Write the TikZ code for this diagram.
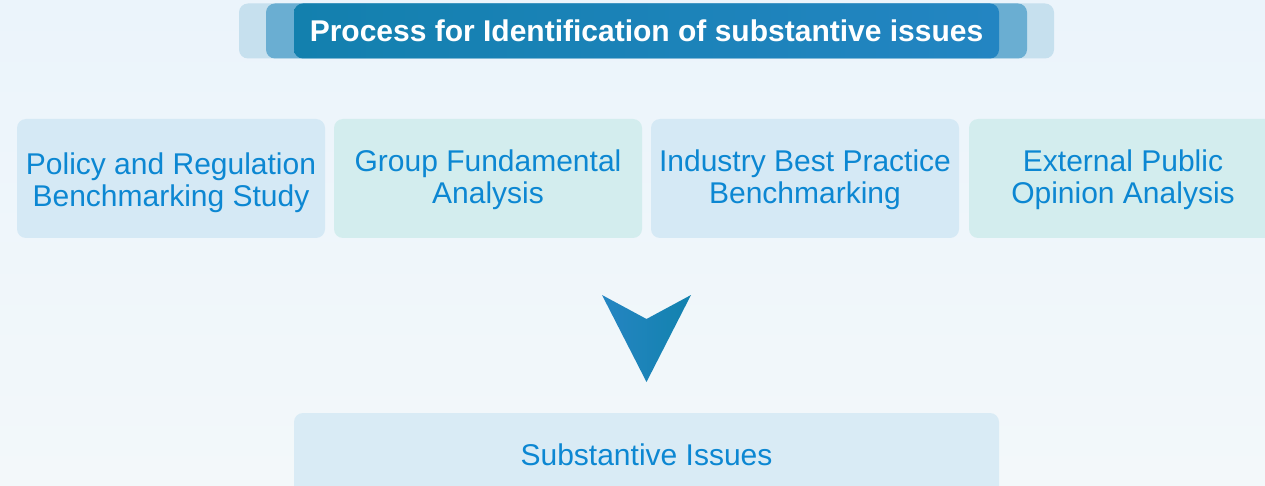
\documentclass[tikz,border=0pt]{standalone}
\usepackage{fontspec}
\setmainfont{Liberation Sans}
\definecolor{bgtop}{HTML}{EBF4FB}
\definecolor{bgbot}{HTML}{F3F8FA}
\definecolor{tOuter}{HTML}{C6E0EE}
\definecolor{tMid}{HTML}{6AAED2}
\definecolor{tInL}{HTML}{1380AE}
\definecolor{tInR}{HTML}{2385C2}
\definecolor{boxBlue}{HTML}{D5E9F5}
\definecolor{boxTeal}{HTML}{D3EDEE}
\definecolor{boxBot}{HTML}{D9EBF5}
\definecolor{txtBlue}{HTML}{0C87D2}
\definecolor{arL}{HTML}{2585C2}
\definecolor{arR}{HTML}{1282AE}
\tikzset{
  srcbox/.style={rectangle, rounded corners=9pt, minimum width=308pt, minimum height=119pt,
    text width=306pt, align=center, text=txtBlue, font=\fontsize{30}{32}\selectfont, inner sep=0pt},
  bluebox/.style={srcbox, fill=boxBlue},
  tealbox/.style={srcbox, fill=boxTeal},
  titlebar/.style={rectangle, rounded corners=9pt, minimum height=55pt, inner sep=0pt},
}
\begin{document}
\begin{tikzpicture}[x=1pt,y=-1pt]
\useasboundingbox (0,0) rectangle (1265,486);
\clip (0,0) rectangle (1265,486);
\shade[top color=bgtop, bottom color=bgbot] (0,0) rectangle (1265,486);
% title
\node[titlebar, fill=tOuter, minimum width=815pt] (tOut) at (646.5,31) {};
\node[titlebar, fill=tMid, minimum width=761pt] (tMidN) at (646.5,31) {};
\node[titlebar, left color=tInL, right color=tInR, minimum width=705pt, text=white,
  font=\bfseries\fontsize{30}{32}\selectfont] (title) at (646.5,31) {Process for Identification of substantive issues};
% source boxes
\node[bluebox] (b1) at (171,178.5) {};
\node[align=center, text=txtBlue, font=\fontsize{30}{32}\selectfont, inner sep=0pt] (b1t) at ([yshift=-4pt]b1.center) {Policy and Regulation\\Benchmarking Study};
\node[tealbox] (b2) at (488,178.5) {};
\node[align=center, text=txtBlue, font=\fontsize{30}{32}\selectfont, inner sep=0pt] (b2t) at ([yshift=-1.5pt]b2.center) {Group Fundamental\\Analysis};
\node[bluebox] (b3) at (805,178.5) {};
\node[align=center, text=txtBlue, font=\fontsize{30}{32}\selectfont, inner sep=0pt] (b3t) at ([yshift=-1.5pt]b3.center) {Industry Best Practice\\Benchmarking};
\node[tealbox] (b4) at (1123,178.5) {};
\node[align=center, text=txtBlue, font=\fontsize{30}{32}\selectfont, inner sep=0pt] (b4t) at ([yshift=-1.5pt]b4.center) {External Public\\Opinion Analysis};
% result
\node[rectangle, rounded corners=9pt, fill=boxBot, minimum width=705pt, minimum height=84pt,
  text=txtBlue, font=\fontsize{30}{32}\selectfont, inner sep=0pt] (res) at (646.5,455) {Substantive Issues};
% chevron arrow
\shade[left color=arL, right color=arR]
  (602,295) -- (646.5,319) -- (691,295) -- (646.5,382) -- cycle;
\end{tikzpicture}
\end{document}
